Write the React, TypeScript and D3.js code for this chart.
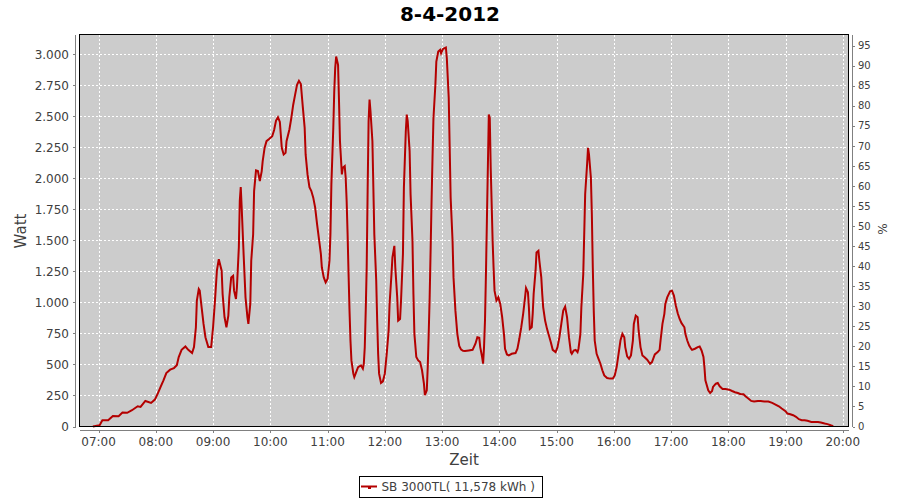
import React from "react";
import * as d3 from "d3";

const TITLE = "8-4-2012";
const SERIES_NAME = "SB 3000TL( 11,578 kWh )";

const TIMES = [
  "06:54","07:01","07:04","07:10","07:15","07:21","07:25","07:30","07:35","07:41","07:44","07:49","07:55","07:59",
  "08:02","08:05","08:08","08:11","08:15","08:19","08:22","08:24","08:27","08:31","08:34","08:38","08:40","08:42","08:43","08:45","08:46","08:48","08:50","08:52","08:55","08:58",
  "09:00","09:02","09:04","09:06","09:09","09:10","09:12","09:14","09:16","09:17","09:19","09:21","09:22","09:24","09:25","09:27","09:28","09:29","09:30","09:32","09:34","09:36","09:37","09:39","09:40","09:42","09:43","09:45","09:47","09:49","09:51","09:52","09:54","09:56","09:59",
  "10:02","10:04","10:06","10:08","10:10","10:11","10:12","10:14","10:16","10:17","10:20","10:22","10:24","10:26","10:28","10:30","10:32","10:34","10:36","10:37","10:39","10:41","10:43","10:45","10:47","10:49","10:51","10:53","10:54","10:56","10:58",
  "11:00","11:02","11:03","11:04","11:06","11:07","11:08","11:09","11:11","11:12","11:13","11:15","11:16","11:18","11:19","11:20","11:21","11:22","11:23","11:24","11:25","11:27","11:28","11:30","11:32","11:35","11:37","11:38","11:39","11:40","11:41","11:42","11:43","11:44","11:45","11:47","11:48","11:49","11:51","11:52","11:53","11:54","11:56","11:58",
  "12:00","12:02","12:04","12:05","12:07","12:08","12:10","12:11","12:13","12:14","12:16","12:17","12:19","12:20","12:22","12:23","12:24","12:26","12:27","12:29","12:30","12:31","12:33","12:35","12:37","12:39","12:41","12:42","12:44","12:45","12:46","12:47","12:48","12:49","12:50","12:51","12:53","12:54","12:56","12:58","12:59",
  "13:01","13:04","13:05","13:07","13:08","13:09","13:11","13:12","13:14","13:16","13:18","13:20","13:22","13:24","13:28","13:32","13:35","13:37","13:39","13:40","13:42","13:43","13:44","13:45","13:46","13:47","13:48","13:49","13:50","13:51","13:53","13:54","13:55","13:57","13:58","13:59",
  "14:01","14:03","14:05","14:06","14:08","14:10","14:13","14:17","14:19","14:21","14:23","14:25","14:27","14:28","14:30","14:31","14:32","14:34","14:35","14:36","14:38","14:39","14:41","14:42","14:44","14:45","14:46","14:48","14:50","14:52","14:54","14:56","14:59",
  "15:01","15:03","15:05","15:07","15:09","15:11","15:13","15:15","15:16","15:18","15:20","15:22","15:23","15:25","15:26","15:28","15:29","15:30","15:32","15:33","15:34","15:36","15:37","15:38","15:39","15:40","15:42","15:44","15:46","15:48","15:50","15:53","15:56","15:59",
  "16:01","16:03","16:05","16:07","16:09","16:11","16:12","16:14","16:16","16:18","16:20","16:21","16:23","16:25","16:26","16:28","16:30","16:32","16:35","16:38","16:40","16:43","16:46","16:48","16:49","16:51","16:53","16:54","16:56","16:59",
  "17:01","17:03","17:05","17:07","17:09","17:11","17:14","17:15","17:17","17:19","17:21","17:22","17:25","17:28","17:30","17:32","17:34","17:35","17:36","17:39","17:41","17:43","17:44","17:47","17:49","17:51","17:54","17:57",
  "18:01","18:04","18:07","18:10","18:13","18:16","18:18","18:21","18:24","18:27","18:31","18:34","18:38","18:42","18:46","18:49","18:53","18:56",
  "19:00","19:02","19:05","19:08","19:11","19:14","19:17","19:20","19:23","19:27","19:30","19:34","19:37","19:41","19:44","19:48","19:50"
];

const WATTS = [
  0,10,50,50,85,83,112,110,131,163,158,206,190,217,
  265,319,372,431,458,471,493,560,618,645,618,592,640,800,1015,1108,1095,961,827,720,640,640,
  800,1015,1256,1349,1256,1068,881,800,894,1041,1202,1215,1095,1028,1122,1443,1818,1930,1764,1390,1041,881,827,988,1336,1550,1898,2064,2059,1979,2059,2139,2246,2300,2319,
  2340,2390,2466,2493,2455,2353,2246,2193,2206,2300,2394,2487,2594,2675,2755,2787,2761,2581,2407,2193,2032,1930,1898,1845,1764,1631,1510,1390,1282,1202,1162,
  1189,1336,1550,1952,2407,2701,2889,2983,2916,2621,2300,2032,2086,2099,2005,1818,1550,1229,934,693,533,426,399,439,479,493,466,506,640,934,1282,1900,2461,2635,2541,2300,1925,1550,1175,854,586,426,351,364,
  426,586,774,988,1229,1363,1456,1282,1041,854,867,1015,1390,1925,2380,2514,2461,2220,1872,1497,1068,747,560,533,519,453,345,252,292,479,747,1041,1416,1818,2166,2487,2755,2942,3023,3036,3009,
  3044,3055,2969,2648,2246,1845,1497,1202,934,747,650,620,610,608,613,618,667,720,715,640,560,506,640,854,1229,1657,2086,2514,2487,2086,1497,1282,1095,1015,1028,1041,
  988,881,734,627,581,573,586,592,627,707,800,908,1041,1116,1082,961,787,800,908,1068,1256,1403,1416,1336,1202,1068,961,854,787,734,680,618,600,
  640,720,827,934,966,881,720,600,586,613,618,600,627,747,961,1229,1550,1872,2112,2246,2193,2005,1711,1282,934,693,586,546,506,453,412,391,386,386,
  412,479,586,693,747,720,640,565,546,573,693,827,894,881,774,640,573,560,538,506,519,581,600,618,693,827,908,988,1041,1090,
  1095,1055,975,913,867,833,800,747,693,653,627,618,627,640,645,613,560,479,372,292,270,286,319,345,351,324,303,303,
  297,286,276,270,260,260,244,225,206,201,206,206,201,201,190,179,163,145,
  123,104,99,91,78,59,51,51,46,37,37,37,32,24,19,8,3
];

const X_TICKS = ["07:00","08:00","09:00","10:00","11:00","12:00","13:00","14:00","15:00","16:00","17:00","18:00","19:00","20:00"];
const W_TICKS = [0,250,500,750,1000,1250,1500,1750,2000,2250,2500,2750,3000];
const PCT_TICKS = [0,5,10,15,20,25,30,35,40,45,50,55,60,65,70,75,80,85,90,95];

const toMin = (s: string) => {
  const [h, m] = s.split(":").map(Number);
  return h * 60 + m;
};

const deLocale = d3.formatLocale({ decimal: ",", thousands: ".", grouping: [3], currency: ["", "€"] });
const fmtW = deLocale.format(",d");

export default function App() {
  const L = 79.5, R = 848.5, T = 34.5, B = 426.5;
  const x = d3.scaleLinear().domain([toMin("06:40"), toMin("20:06")]).range([L, R]);
  const y = d3.scaleLinear().domain([0, 3160]).range([B, T]);
  const yP = d3.scaleLinear().domain([0, 97.8]).range([B, T]);
  const data = TIMES.map((t, i) => ({ t: toMin(t), w: WATTS[i] }));
  const line = d3.line<{ t: number; w: number }>().x((d) => x(d.t)).y((d) => y(d.w));
  const font = "'DejaVu Sans', sans-serif";
  const tickColor = "#404040";
  const axisColor = "#808080";
  const red = "#b40000";

  return (
    <svg width={900} height={500} style={{ position: "absolute", left: 0, top: 0, background: "#fff" }} fontFamily={font}>
      <rect x={0} y={0} width={900} height={500} fill="#fff" />
      <text x={450} y={21} textAnchor="middle" fontSize={20} fontWeight="bold" fill="#000">{TITLE}</text>

      {/* plot background */}
      <rect x={L} y={T} width={R - L} height={B - T} fill="#cccccc" />
      {/* grid */}
      <g shapeRendering="crispEdges" stroke="#fff" strokeWidth={1} strokeDasharray="2,2">
        {X_TICKS.map((t) => (
          <line key={t} x1={Math.round(x(toMin(t))) + 0.5} x2={Math.round(x(toMin(t))) + 0.5} y1={T} y2={B} />
        ))}
        {W_TICKS.filter((v) => v > 0).map((v) => (
          <line key={v} x1={L} x2={R} y1={Math.round(y(v)) + 0.5} y2={Math.round(y(v)) + 0.5} />
        ))}
      </g>

      {/* series */}
      <path d={line(data) || ""} fill="none" stroke={red} strokeWidth={2} strokeLinejoin="miter" />

      {/* plot border */}
      <rect x={L} y={T} width={R - L} height={B - T} fill="none" stroke="#000" strokeWidth={1} shapeRendering="crispEdges" />

      {/* left axis */}
      <g shapeRendering="crispEdges">
        <line x1={75.5} x2={75.5} y1={T} y2={B} stroke={axisColor} />
        {W_TICKS.map((v) => (
          <g key={v}>
            <line x1={73} x2={75.5} y1={Math.round(y(v)) + 0.5} y2={Math.round(y(v)) + 0.5} stroke={axisColor} />
          </g>
        ))}
      </g>
      {W_TICKS.map((v) => (
        <text key={v} x={69} y={y(v)} dy="0.36em" textAnchor="end" fontSize={12} fill={tickColor}>{fmtW(v)}</text>
      ))}
      <text transform={`translate(26,231) rotate(-90)`} textAnchor="middle" fontSize={15} fill={tickColor}>Watt</text>

      {/* right axis */}
      <g shapeRendering="crispEdges">
        <line x1={852.5} x2={852.5} y1={T} y2={B} stroke={axisColor} />
        {PCT_TICKS.map((v) => (
          <line key={v} x1={852.5} x2={855} y1={Math.round(yP(v)) + 0.5} y2={Math.round(yP(v)) + 0.5} stroke={axisColor} />
        ))}
      </g>
      {PCT_TICKS.map((v) => (
        <text key={v} x={858} y={yP(v)} dy="0.36em" fontSize={10} fill={tickColor}>{v}</text>
      ))}
      <text transform={`translate(887,229) rotate(-90)`} textAnchor="middle" fontSize={12} fill={tickColor}>%</text>

      {/* bottom axis */}
      <g shapeRendering="crispEdges">
        <line x1={L} x2={R} y1={430.5} y2={430.5} stroke={axisColor} />
        {X_TICKS.map((t) => (
          <line key={t} x1={Math.round(x(toMin(t))) + 0.5} x2={Math.round(x(toMin(t))) + 0.5} y1={430.5} y2={433} stroke={axisColor} />
        ))}
      </g>
      {X_TICKS.map((t) => (
        <text key={t} x={x(toMin(t))} y={446} textAnchor="middle" fontSize={12} fill={tickColor}>{t}</text>
      ))}
      <text x={(L + R) / 2} y={464.5} textAnchor="middle" fontSize={15} fill={tickColor}>Zeit</text>

      {/* legend */}
      <rect x={359.5} y={476.5} width={183} height={20.5} fill="#fff" stroke="#000" shapeRendering="crispEdges" />
      <line x1={361} x2={377} y1={486.5} y2={486.5} stroke={red} strokeWidth={2} />
      <rect x={368} y={486} width={3} height={3} fill={red} />
      <text x={381.5} y={491} fontSize={12} fill={tickColor}>{SERIES_NAME}</text>
    </svg>
  );
}
